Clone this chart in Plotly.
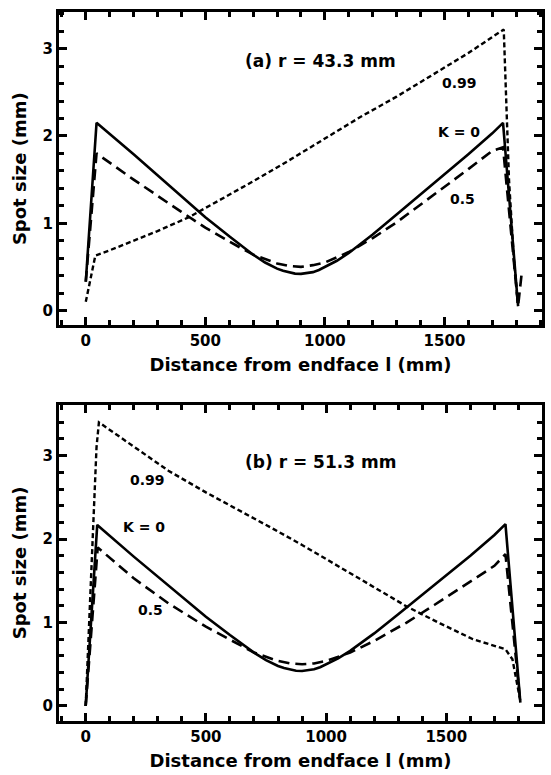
import plotly.graph_objects as go

# ---------------- data ----------------
# Panel (a): r = 43.3 mm
a_x_k0 = [0, 45, 200, 300, 400, 500, 600, 700, 750, 800, 825, 850, 875, 900, 925, 950, 975, 1000, 1050, 1100, 1200, 1300, 1400, 1500, 1600, 1700, 1745, 1808]
a_y_k0 = [0.33, 2.15, 1.79, 1.55, 1.31, 1.07, 0.85, 0.64, 0.55, 0.48, 0.455, 0.435, 0.423, 0.42, 0.426, 0.44, 0.465, 0.50, 0.57, 0.66, 0.87, 1.10, 1.33, 1.55, 1.79, 2.03, 2.15, 0.05]

a_x_k05 = [0, 45, 200, 300, 400, 500, 600, 700, 800, 850, 900, 950, 1000, 1100, 1200, 1300, 1400, 1500, 1600, 1700, 1745, 1808, 1822]
a_y_k05 = [0.33, 1.80, 1.50, 1.31, 1.13, 0.95, 0.79, 0.64, 0.54, 0.51, 0.50, 0.52, 0.55, 0.67, 0.83, 1.01, 1.21, 1.41, 1.62, 1.83, 1.87, 0.05, 0.40]

a_x_k099 = [0, 40, 100, 200, 300, 432, 550, 700, 850, 1000, 1150, 1300, 1450, 1600, 1748, 1770, 1790, 1808]
a_y_k099 = [0.10, 0.63, 0.69, 0.80, 0.91, 1.07, 1.25, 1.48, 1.72, 1.97, 2.22, 2.45, 2.70, 2.95, 3.22, 1.50, 0.60, 0.05]

# Panel (b): r = 51.3 mm
b_x_k0 = [0, 48, 200, 300, 400, 500, 600, 700, 750, 800, 825, 850, 875, 900, 925, 950, 975, 1000, 1050, 1100, 1200, 1300, 1400, 1500, 1600, 1700, 1746, 1808]
b_y_k0 = [0.0, 2.17, 1.79, 1.55, 1.31, 1.07, 0.85, 0.64, 0.55, 0.48, 0.455, 0.435, 0.423, 0.42, 0.426, 0.44, 0.465, 0.50, 0.57, 0.66, 0.87, 1.10, 1.33, 1.56, 1.80, 2.05, 2.18, 0.04]

b_x_k05 = [0, 50, 200, 344, 500, 600, 700, 800, 850, 900, 950, 1000, 1100, 1200, 1335, 1450, 1600, 1700, 1746, 1808]
b_y_k05 = [0.0, 1.90, 1.53, 1.23, 0.95, 0.79, 0.64, 0.54, 0.51, 0.50, 0.51, 0.54, 0.64, 0.78, 1.00, 1.21, 1.49, 1.68, 1.82, 0.04]

b_x_k099 = [0, 22, 35, 45, 55, 200, 344, 500, 650, 782, 900, 1050, 1172, 1337, 1474, 1611, 1700, 1746, 1775, 1808]
b_y_k099 = [0.0, 1.5, 2.4, 3.1, 3.40, 3.11, 2.82, 2.56, 2.33, 2.12, 1.93, 1.68, 1.47, 1.19, 0.99, 0.80, 0.72, 0.68, 0.56, 0.06]

x_title = "Distance from endface l (mm)"
y_title = "Spot size (mm)"
panel_a_label = "(a) r = 43.3 mm"
panel_b_label = "(b) r = 51.3 mm"

FONT = "DejaVu Sans"
BLACK = "black"

fig = go.Figure()

def add_panel(xs, ys, xa, ya):
    styles = [
        dict(dash="solid", width=2.6),
        dict(dash="11px,6px", width=2.6),
        dict(dash="5px,3px", width=2.4),
    ]
    names = ["K = 0", "K = 0.5", "K = 0.99"]
    for (x, y), st, nm in zip(zip(xs, ys), styles, names):
        fig.add_trace(go.Scatter(
            x=x, y=y, mode="lines", name=nm, showlegend=False,
            line=dict(color=BLACK, width=st["width"], dash=st["dash"]),
            xaxis=xa, yaxis=ya,
        ))

add_panel([a_x_k0, a_x_k05, a_x_k099], [a_y_k0, a_y_k05, a_y_k099], "x", "y")
add_panel([b_x_k0, b_x_k05, b_x_k099], [b_y_k0, b_y_k05, b_y_k099], "x2", "y2")

tickfont = dict(family=FONT, size=15, color=BLACK, weight="bold")
titlefont = dict(family=FONT, size=18, color=BLACK, weight="bold")

def xaxis(domain_anchor, rng):
    return dict(
        range=rng, anchor=domain_anchor, domain=[0, 1],
        tickmode="linear", tick0=0, dtick=500,
        ticks="inside", ticklen=8, tickwidth=2.5, tickcolor=BLACK,
        minor=dict(ticks="inside", dtick=100, tick0=0, ticklen=5, tickwidth=2.5, tickcolor=BLACK),
        showline=True, linewidth=3, linecolor=BLACK, mirror="ticks",
        showgrid=False, zeroline=False,
        tickfont=tickfont,
        title=dict(text=x_title, font=titlefont, standoff=10),
    )

def yaxis(domain_anchor, rng, dom):
    return dict(
        range=rng, anchor=domain_anchor, domain=dom,
        tickmode="linear", tick0=0, dtick=1,
        ticks="inside", ticklen=8, tickwidth=2.5, tickcolor=BLACK,
        minor=dict(ticks="inside", dtick=0.2, tick0=0, ticklen=5, tickwidth=2.5, tickcolor=BLACK),
        showline=True, linewidth=3, linecolor=BLACK, mirror="ticks",
        showgrid=False, zeroline=False,
        tickfont=tickfont,
        title=dict(text=y_title, font=titlefont, standoff=12),
    )

fig.update_layout(
    width=551, height=775,
    margin=dict(l=59, r=6, t=12, b=50),
    paper_bgcolor="white", plot_bgcolor="white",
    xaxis=xaxis("y", [-112, 1908]),
    yaxis=yaxis("x", [-0.17, 3.42], [0.558, 1.0]),
    xaxis2=xaxis("y2", [-111, 1898]),
    yaxis2=yaxis("x2", [-0.18, 3.61], [0.0, 0.446]),
)

ann_font_big = dict(family=FONT, size=17, color=BLACK, weight="bold")
ann_font = dict(family=FONT, size=14, color=BLACK, weight="bold")

annotations = [
    dict(x=981, y=2.86, xref="x", yref="y", text=panel_a_label, font=ann_font_big),
    dict(x=1563, y=2.61, xref="x", yref="y", text="0.99", font=ann_font),
    dict(x=1559, y=2.05, xref="x", yref="y", text="K = 0", font=ann_font),
    dict(x=1576, y=1.28, xref="x", yref="y", text="0.5", font=ann_font),
    dict(x=978, y=2.93, xref="x2", yref="y2", text=panel_b_label, font=ann_font_big),
    dict(x=259, y=2.71, xref="x2", yref="y2", text="0.99", font=ann_font),
    dict(x=243, y=2.15, xref="x2", yref="y2", text="K = 0", font=ann_font),
    dict(x=271, y=1.15, xref="x2", yref="y2", text="0.5", font=ann_font),
]
for a in annotations:
    a.update(showarrow=False, xanchor="center", yanchor="middle")
fig.update_layout(annotations=annotations)

fig.write_html("out.html")
